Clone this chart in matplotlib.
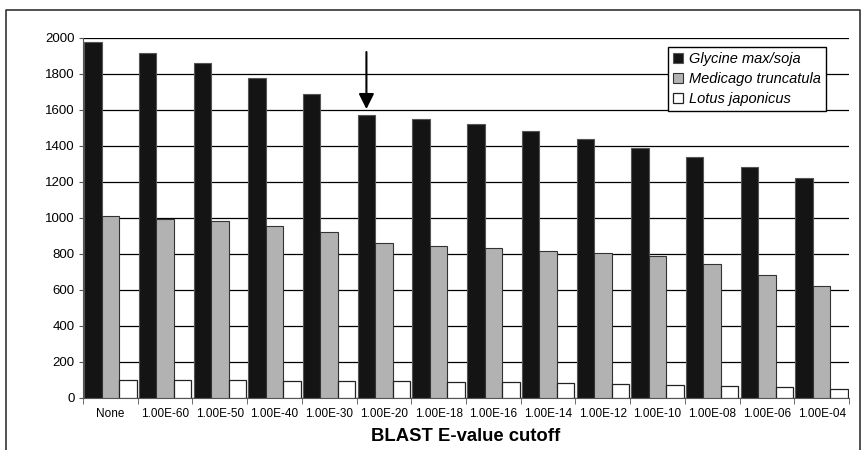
import numpy as np
import matplotlib.pyplot as plt
from matplotlib.lines import Line2D

plt.rcParams['font.family'] = ['Liberation Sans', 'DejaVu Sans']

cutoffs = ['None', '1.00E-60', '1.00E-50', '1.00E-40', '1.00E-30', '1.00E-20',
           '1.00E-18', '1.00E-16', '1.00E-14', '1.00E-12', '1.00E-10',
           '1.00E-08', '1.00E-06', '1.00E-04']
glycine = [1978, 1918, 1862, 1778, 1688, 1575, 1552, 1520, 1481, 1438, 1390, 1340, 1286, 1220]
medicago = [1009, 994, 983, 956, 920, 859, 843, 833, 817, 806, 787, 746, 681, 620]
lotus = [100, 100, 99, 96, 95, 93, 88, 88, 85, 80, 73, 67, 60, 51]
series_names = ['Glycine max/soja', 'Medicago truncatula', 'Lotus japonicus']

fig = plt.figure(figsize=(8.62, 4.5), dpi=100)
ax = fig.add_axes([83/862, 52/450, 766/862, 360/450])

x = np.arange(len(cutoffs))
w = 0.32
ax.bar(x - w, glycine, w, color='#141414', edgecolor='#555555', linewidth=0.8,
       label=series_names[0], zorder=3)
ax.bar(x, medicago, w, color='#b2b2b2', edgecolor='#333333', linewidth=0.8,
       label=series_names[1], zorder=3)
ax.bar(x + w, lotus, w, color='white', edgecolor='#222222', linewidth=0.9,
       label=series_names[2], zorder=3)

ax.set_xlim(-0.5, len(cutoffs) - 0.5)
ax.set_ylim(0, 2000)
ax.set_yticks(range(0, 2001, 200))
ax.yaxis.grid(True, color='black', linewidth=0.9)
ax.set_axisbelow(True)
ax.tick_params(axis='y', labelsize=9.5, length=3, color='#555555', pad=3)

ax.set_xticks(x)
ax.set_xticklabels(cutoffs, fontsize=8.5)
ax.set_xticks(np.arange(-0.5, len(cutoffs)), minor=True)
ax.tick_params(axis='x', which='major', length=0, pad=7)
ax.tick_params(axis='x', which='minor', length=4, color='#555555')

for s in ['top', 'right']:
    ax.spines[s].set_visible(False)
ax.spines['left'].set_color('#555555')
ax.spines['bottom'].set_color('#555555')

ax.set_xlabel('BLAST E-value cutoff', fontsize=13.3, fontweight='bold', labelpad=6)

# arrow pointing at the 1E-20 glycine bar
ax.annotate('', xy=(5 - w, 1605), xytext=(5 - w, 1922),
            arrowprops=dict(arrowstyle='-|>', color='black', lw=1.5,
                            mutation_scale=23, shrinkA=0, shrinkB=0), zorder=5)

leg = ax.legend(loc='upper right', bbox_to_anchor=(0.970, 0.975), borderaxespad=0,
                fancybox=False, edgecolor='black', framealpha=1,
                prop={'style': 'italic', 'size': 10.5},
                handlelength=0.7, handleheight=0.7, handletextpad=0.4,
                labelspacing=0.42, borderpad=0.35)
leg.get_frame().set_linewidth(1.0)

# outer frame
fig.add_artist(Line2D([6/862, 6/862, 860/862, 860/862], [0, 1 - 10/450, 1 - 10/450, 0],
                      transform=fig.transFigure, color='#333333', linewidth=1.2))

fig.savefig('out.png', dpi=100)
